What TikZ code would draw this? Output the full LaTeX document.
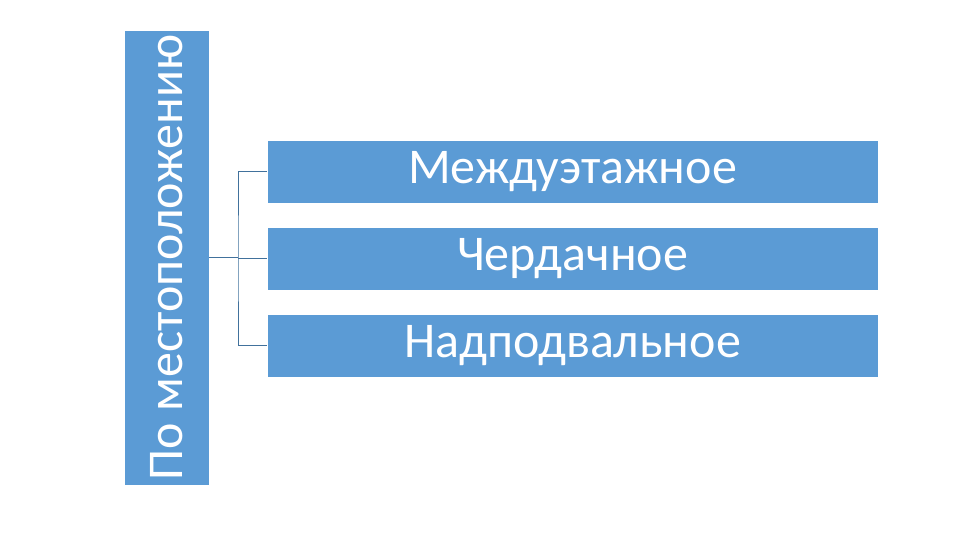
\documentclass[tikz,border=0pt]{standalone}
\usepackage{fontspec}
\setmainfont{Carlito}
\usetikzlibrary{positioning}
\definecolor{SAblue}{HTML}{5B9BD5}
\definecolor{SAline}{HTML}{41719C}
\tikzset{
  sa/head/.style={draw=white, fill=SAblue, text=white, minimum width=85pt, minimum height=455pt, inner sep=0pt},
  sa/item/.style={draw=white, fill=SAblue, text=white, minimum width=611pt, minimum height=63pt, inner sep=0pt, font=\fontsize{50}{54}\selectfont},
  sa/line/.style={draw=SAline, line width=0.8pt}
}

\begin{document}
\begin{tikzpicture}[x=1pt, y=-1pt, node distance=23.5pt]
  \useasboundingbox (0,0) rectangle (960,540);
  \node[sa/head] (place) at (166.5,257.5) {};
  \node[rotate=90, text=white, font=\fontsize{50}{54}\selectfont] (placetxt) at (place.center) {По местоположению};

  \node[sa/item] (inter) at (572.5,171.5) {Междуэтажное};
  \node[sa/item, below=of inter] (attic) {Чердачное};
  \node[sa/item, below=of attic] (basement) {Надподвальное};

  \coordinate (fork) at (238,0);
  \draw[sa/line] (place.east) -- (fork |- place.east);
  \draw[sa/line] (inter.west) -| (fork |- attic.west) |- (basement.west);
  \draw[sa/line] (fork |- attic.west) -- (attic.west);
\end{tikzpicture}
\end{document}
